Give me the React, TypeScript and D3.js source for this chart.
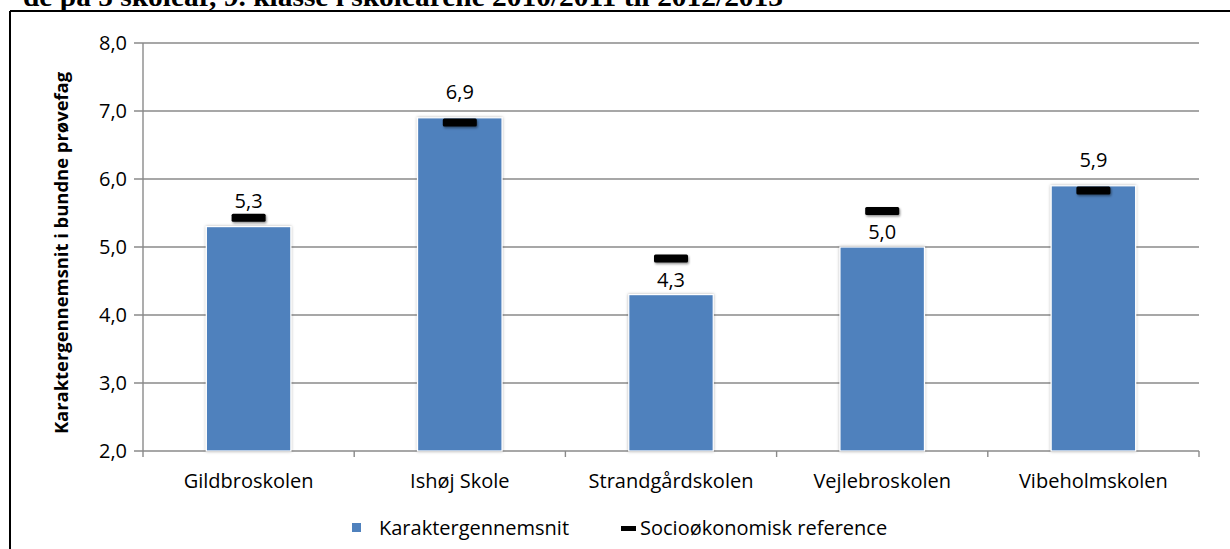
import * as d3 from 'd3'

const schools = ['Gildbroskolen', 'Ishøj Skole', 'Strandgårdskolen', 'Vejlebroskolen', 'Vibeholmskolen']
const grades = [5.3, 6.9, 4.3, 5.0, 5.9]
const reference = [5.4, 6.8, 4.8, 5.5, 5.8]
const yTicks = [2, 3, 4, 5, 6, 7, 8]
const seriesNames = ['Karaktergennemsnit', 'Socioøkonomisk reference']
const yTitle = 'Karaktergennemsnit i bundne prøvefag'
const caption = 'de på 5 skoleår, 9. klasse i skoleårene 2010/2011 til 2012/2013'

const W = 1230
const H = 549
const FONT = '"Open Sans", Calibri, sans-serif'
const FS = 20
const GRID = '#8a8a8a'

const fmt = (v: number) => d3.format('.1f')(v).replace('.', ',')

export default function App() {
  const margin = { left: 143, right: 1199, top: 43, bottom: 451 }

  const x = d3.scaleBand<string>().domain(schools).range([margin.left, margin.right])
  const y = d3.scaleLinear().domain([2, 8]).range([margin.bottom, margin.top])
  const barW = x.bandwidth() * 0.4
  const markW = 34
  const markH = 8

  return (
    <svg
      width={W}
      height={H}
      style={{ position: 'absolute', left: 0, top: 0, background: '#fff' }}
    >
      <defs>
        <filter id="barGlow" x="-10%" y="-10%" width="120%" height="120%">
          <feDropShadow dx="0" dy="0" stdDeviation="1.6" floodColor="#000" floodOpacity="0.3" />
        </filter>
        <filter id="markShadow" x="-30%" y="-60%" width="160%" height="220%">
          <feDropShadow dx="1" dy="1.5" stdDeviation="1.2" floodColor="#000" floodOpacity="0.45" />
        </filter>
      </defs>

      {/* caption of the page, cut by the top edge as in the source */}
      <text
        x={23}
        y={6}
        fontFamily='"Liberation Serif", "Times New Roman", serif'
        fontWeight="bold"
        fontSize={28}
        textLength={760}
        lengthAdjust="spacingAndGlyphs"
      >
        {caption}
      </text>

      {/* outer frame */}
      <line x1={10} x2={W} y1={11} y2={11} stroke="#000" strokeWidth={2} />
      <line x1={10} x2={10} y1={11} y2={H} stroke="#000" strokeWidth={2} />

      {/* gridlines */}
      {yTicks.map(t => (
        <line
          key={'g' + t}
          x1={margin.left - 9}
          x2={margin.right}
          y1={y(t)}
          y2={y(t)}
          stroke={GRID}
          strokeWidth={1.4}
        />
      ))}
      {/* y axis */}
      <line x1={margin.left} x2={margin.left} y1={margin.top} y2={margin.bottom + 6} stroke={GRID} strokeWidth={1.4} />
      {/* x axis category ticks */}
      {schools.map(s => (
        <line
          key={'xt' + s}
          x1={(x(s) as number) + x.bandwidth()}
          x2={(x(s) as number) + x.bandwidth()}
          y1={margin.bottom}
          y2={margin.bottom + 6}
          stroke={GRID}
          strokeWidth={1.4}
        />
      ))}

      {yTicks.map(t => (
        <text
          key={'yl' + t}
          x={127}
          y={y(t)}
          dy="0.36em"
          textAnchor="end"
          fontFamily={FONT}
          fontSize={FS}
          fill="#000"
        >
          {fmt(t)}
        </text>
      ))}

      <text
        transform={`translate(68,${(margin.top + margin.bottom) / 2 + 6}) rotate(-90)`}
        textAnchor="middle"
        fontFamily={FONT}
        fontWeight="bold"
        fontSize={18.4}
        fill="#000"
      >
        {yTitle}
      </text>

      {/* bars */}
      {schools.map((s, i) => {
        const cx = (x(s) as number) + x.bandwidth() / 2
        return (
          <rect
            key={'b' + s}
            x={cx - barW / 2}
            y={y(grades[i])}
            width={barW}
            height={margin.bottom - y(grades[i])}
            fill="#4F81BD"
            stroke="#fff"
            strokeWidth={1.2}
            filter="url(#barGlow)"
          />
        )
      })}

      {/* reference markers */}
      {schools.map((s, i) => {
        const cx = (x(s) as number) + x.bandwidth() / 2
        return (
          <rect
            key={'m' + s}
            x={cx - markW / 2}
            y={y(reference[i]) - markH / 2 - 2}
            width={markW}
            height={markH}
            rx={1.5}
            fill="#000"
            filter="url(#markShadow)"
          />
        )
      })}

      {/* value labels */}
      {schools.map((s, i) => {
        const cx = (x(s) as number) + x.bandwidth() / 2
        const markerAbove = reference[i] - grades[i] > 0.15
        const off = markerAbove ? 8 : 19
        return (
          <text
            key={'v' + s}
            x={cx}
            y={y(grades[i]) - off}
            textAnchor="middle"
            fontFamily={FONT}
            fontSize={FS}
            fill="#000"
          >
            {fmt(grades[i])}
          </text>
        )
      })}

      {/* category labels */}
      {schools.map(s => (
        <text
          key={'c' + s}
          x={(x(s) as number) + x.bandwidth() / 2}
          y={488}
          textAnchor="middle"
          fontFamily={FONT}
          fontSize={FS}
          fill="#000"
        >
          {s}
        </text>
      ))}

      {/* legend */}
      <rect x={352} y={523} width={9} height={9} fill="#4F81BD" />
      <text x={379} y={535} fontFamily={FONT} fontSize={FS} fill="#000">
        {seriesNames[0]}
      </text>
      <rect x={621} y={526} width={15} height={5} fill="#000" />
      <text x={640} y={535} fontFamily={FONT} fontSize={FS} fill="#000">
        {seriesNames[1]}
      </text>
    </svg>
  )
}
